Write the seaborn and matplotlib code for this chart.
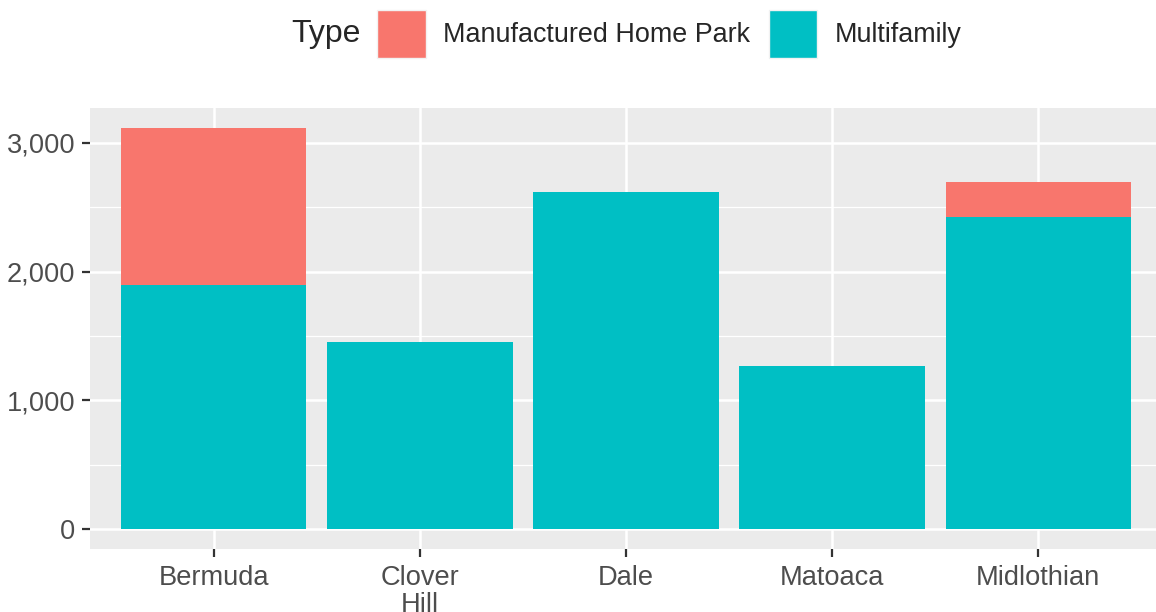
import matplotlib
matplotlib.use('Agg')
import matplotlib.pyplot as plt
from matplotlib.patches import Patch
from matplotlib.ticker import FuncFormatter, MultipleLocator
import seaborn as sns
import pandas as pd
import numpy as np

# data
districts = ['Bermuda', 'Clover\nHill', 'Dale', 'Matoaca', 'Midlothian']
multifamily = [1896, 1453, 2619, 1267, 2424]
manufactured = [1220, 0, 0, 0, 272]
types = ['Manufactured Home Park', 'Multifamily']
colors = ['#F8766D', '#00BFC4']

sns.set_style('darkgrid', {'axes.facecolor': '#EBEBEB', 'grid.color': 'white'})
plt.rcParams['font.family'] = ['Liberation Sans', 'DejaVu Sans']

totals = np.array(multifamily) + np.array(manufactured)
df = pd.DataFrame({'District': districts, 'Multifamily': multifamily, 'Total': totals})

fig = plt.figure(figsize=(11.56, 6.12), dpi=100)
# panel runs a little past the right edge of the image, like the reference
ax = fig.add_axes([90 / 1156, 1 - 549 / 612, (1162 - 90) / 1156, (549 - 108) / 612])

# stacked: totals first (top part shows MHP), multifamily on top of it
sns.barplot(data=df, x='District', y='Total', color=colors[0], saturation=1, width=0.9, ax=ax)
sns.barplot(data=df, x='District', y='Multifamily', color=colors[1], saturation=1, width=0.9, ax=ax)
for p in ax.patches:
    p.set_edgecolor('none')

top = totals.max()
ax.set_xlim(-0.6, 4.6)
ax.set_ylim(-0.05 * top, top * 1.05)
ax.yaxis.set_major_locator(MultipleLocator(1000))
ax.yaxis.set_minor_locator(MultipleLocator(500))
ax.yaxis.set_major_formatter(FuncFormatter(lambda v, p: f'{int(v):,}'))
ax.grid(which='major', color='white', linewidth=1.8)
ax.grid(which='minor', axis='y', color='white', linewidth=0.9)
ax.set_axisbelow(True)
for s in ax.spines.values():
    s.set_visible(False)
ax.set_xlabel('')
ax.set_ylabel('')
ax.tick_params(axis='both', which='major', length=5.5, width=1.6, color='#333333',
               labelsize=19.6, labelcolor='#4D4D4D', bottom=True, left=True)
ax.tick_params(axis='x', pad=6)
ax.tick_params(axis='y', pad=5)
ax.tick_params(axis='y', which='minor', length=0)
for lbl in ax.get_xticklabels():
    lbl.set_linespacing(1.06)

# legend on top
fig.text(291 / 1156, 1 - 34 / 612, 'Type', fontsize=23, va='center', ha='left')
handles = [Patch(facecolor=c, edgecolor='#F2F2F2', linewidth=1) for c in colors]
fig.legend(handles, types, loc='center left', bbox_to_anchor=(377 / 1156, 1 - 34 / 612),
           ncol=2, frameon=False, fontsize=19.4, handlelength=1.8, handleheight=2.4,
           handletextpad=0.65, columnspacing=0.7, borderpad=0, borderaxespad=0)

plt.savefig('out.png', dpi=100)
